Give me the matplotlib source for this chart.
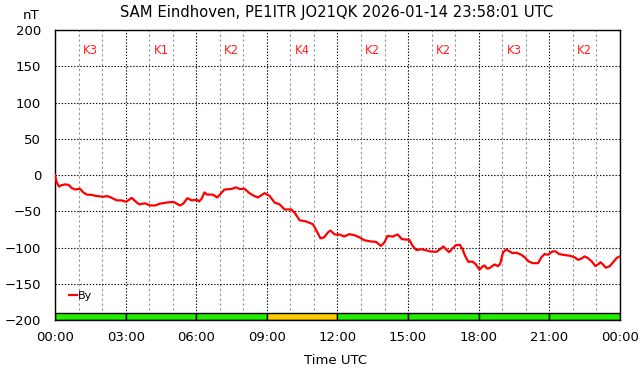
import matplotlib
matplotlib.use('Agg')
import matplotlib.pyplot as plt
import matplotlib.ticker as mticker
import numpy as np

# By component, hours since 00:00 UTC and nT
hours = [0.0, 0.07, 0.17, 0.28, 0.42, 0.57, 0.71, 0.85, 1.06, 1.2, 1.35, 1.56, 1.77,
         2.05, 2.22, 2.41, 2.62, 2.83, 3.02, 3.26, 3.44, 3.58, 3.82, 4.04, 4.25,
         4.46, 4.74, 5.03, 5.17, 5.31, 5.45, 5.62, 5.81, 6.02, 6.12, 6.22, 6.35,
         6.46, 6.7, 6.89, 7.06, 7.2, 7.48, 7.7, 7.84, 8.05, 8.26, 8.45, 8.62, 8.9,
         9.11, 9.33, 9.54, 9.75, 10.04, 10.18, 10.39, 10.6, 10.82, 10.96, 11.1,
         11.28, 11.43, 11.6, 11.7, 11.88, 12.08, 12.29, 12.5, 12.72, 12.93, 13.14,
         13.42, 13.64, 13.75, 13.85, 13.99, 14.13, 14.34, 14.55, 14.74, 15.05,
         15.19, 15.36, 15.54, 15.75, 15.96, 16.2, 16.36, 16.5, 16.63, 16.74, 16.88,
         17.03, 17.2, 17.31, 17.42, 17.56, 17.73, 17.87, 18.03, 18.18, 18.25,
         18.35, 18.46, 18.67, 18.82, 18.91, 19.03, 19.17, 19.31, 19.43, 19.6,
         19.81, 19.95, 20.13, 20.3, 20.52, 20.66, 20.8, 20.94, 21.13, 21.27,
         21.41, 21.65, 21.87, 22.07, 22.22, 22.36, 22.5, 22.65, 22.79, 22.96,
         23.1, 23.17, 23.28, 23.4, 23.57, 23.71, 23.86, 23.97]
by_nt = [0, -10, -16, -14, -13, -13.5, -18, -20, -19, -24, -27, -27.5, -29,
         -30, -29, -31.5, -35, -35, -37, -31.5, -37, -40.5, -39, -42, -42,
         -39.5, -38, -37, -39.5, -42, -39.5, -32, -35, -34, -36.5, -33, -24,
         -27, -27, -31, -25, -20, -19.3, -17, -19.3, -19, -25, -28.7, -31, -25,
         -28.7, -38, -40.4, -47.5, -47.5, -52, -62.5, -63.5, -66, -68, -76.6,
         -87.4, -86, -79, -76.6, -82, -82, -84.8, -81.6, -83, -86, -89.9,
         -91.7, -92.2, -95.4, -97.7, -93, -84, -85, -82, -88.5, -89.4,
         -97.7, -103.7, -102.3, -103.7, -105.5, -106, -102.3, -98.6, -103.2, -106.4, -101.4,
         -96.8, -96.3, -102.3, -111.5, -119.8, -119.3, -123, -130.5, -125.7, -124.8,
         -129, -128.4, -123.4, -125.7, -122.5, -106.8, -102.7, -105.4, -107.7, -107.2,
         -110, -113.5, -119.4, -121.6, -121.6, -113.5, -109, -110, -105.4, -105.4,
         -109, -110.4, -111.3, -113.5, -117, -115.3, -112.2, -114.9, -118.9, -125.7,
         -122.5, -120.3, -123.4, -127.9, -125.7, -120.3, -114.4, -112.6]

# K index per 3 hour block
k_start = [0, 3, 6, 9, 12, 15, 18, 21]
k_index = [3, 1, 2, 4, 2, 2, 3, 2]

xtick_pos = [0, 3, 6, 9, 12, 15, 18, 21, 24]
xtick_labels = ['00:00', '03:00', '06:00', '09:00', '12:00', '15:00', '18:00', '21:00', '00:00']

fig = plt.figure(figsize=(6.42, 3.76), dpi=100)
ax = fig.add_axes([0.0857, 0.1489, 0.88, 0.7713])

ax.set_xlim(0, 24)
ax.set_ylim(-200, 200)

# grid: black dotted majors, grey dashed hourly minors
ax.xaxis.set_major_locator(mticker.FixedLocator(xtick_pos))
ax.xaxis.set_minor_locator(mticker.MultipleLocator(1))
ax.yaxis.set_major_locator(mticker.MultipleLocator(50))
ax.set_xticklabels(xtick_labels)
ax.grid(which='minor', axis='x', color='#999999', linestyle=(0, (2.2, 2.2)), linewidth=0.8)
ax.grid(which='major', axis='both', color='black', linestyle=(0, (1.2, 1.6)), linewidth=0.8)
ax.set_axisbelow(True)
ax.tick_params(which='both', length=0)
ax.tick_params(axis='y', pad=10, labelsize=9.5)
ax.tick_params(axis='x', pad=8, labelsize=9.5)
for s in ax.spines.values():
    s.set_linewidth(1.0)

# K index bars at the bottom
kcolors = ['#ffcc00' if k == 4 else '#22ee00' for k in k_index]
ax.bar(k_start, [10] * len(k_start), width=3, bottom=-200, align='edge',
       color=kcolors, edgecolor='black', linewidth=1.0, zorder=2)

for st, k in zip(k_start, k_index):
    ax.text(st + 1.5, 172, 'K%d' % k, color='#ff2020', fontsize=8.5,
            ha='center', va='center')

ax.plot(hours, by_nt, color='#ff0000', linewidth=1.6, label='By', zorder=3)

leg = ax.legend(loc='center left', bbox_to_anchor=(0.025, 0.083), frameon=False,
                fontsize=8, handlelength=0.7, handletextpad=0.1, borderpad=0,
                borderaxespad=0)

fig.text(0.524, 0.968, 'SAM Eindhoven, PE1ITR JO21QK 2026-01-14 23:58:01 UTC',
         ha='center', va='center', fontsize=10.6)
fig.text(0.049, 0.958, 'nT', ha='center', va='center', fontsize=9.5)
fig.text(0.523, 0.04, 'Time UTC', ha='center', va='center', fontsize=9.5)

fig.savefig('out.png', dpi=100)
